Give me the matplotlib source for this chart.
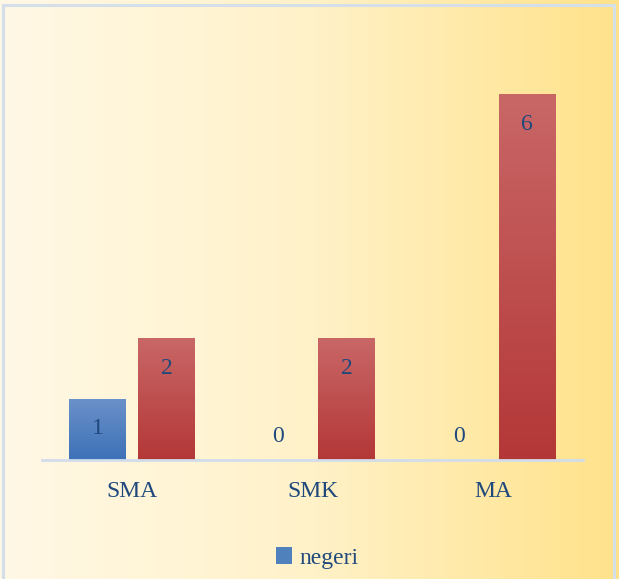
import numpy as np
import matplotlib
matplotlib.use('Agg')
import matplotlib.pyplot as plt
from matplotlib.colors import LinearSegmentedColormap
from matplotlib.patches import Patch

categories = ['SMA', 'SMK', 'MA']
negeri = [1, 0, 0]
swasta = [2, 2, 6]
series_names = ['negeri', 'swasta']

W, H = 619, 579
TXT = '#1F497D'
FONT = 'Liberation Serif'
FS = 17
fig = plt.figure(figsize=(W / 100, H / 100), dpi=100)

# background gradient
bg = fig.add_axes([0, 0, 1, 1], zorder=-10)
bgcmap = LinearSegmentedColormap.from_list(
    'bg', [(0, '#FFF8E6'), (0.5, '#FFF2C9'), (1, '#FFE28A')])
grad = np.linspace(0, 1, 256).reshape(1, -1)
bg.imshow(grad, aspect='auto', cmap=bgcmap, extent=[0, 1, 0, 1])
bg.set_xlim(0, 1)
bg.set_ylim(0, 1)
bg.axis('off')
bg.plot([2.5 / W, 2.5 / W, 613.5 / W, 613.5 / W],
        [-0.02, 1 - 5 / H, 1 - 5 / H, -0.02],
        color='#D5DFEA', lw=2.2, solid_joinstyle='miter')

# main axes
ax = fig.add_axes([42 / W, (H - 460) / H, (583 - 42) / W, (460 - 20) / H])
ax.patch.set_alpha(0)
x = np.arange(len(categories))
bw = 0.316
off = 0.19

blue_cmap = LinearSegmentedColormap.from_list('b', ['#3D71B7', '#6A91C9'])
red_cmap = LinearSegmentedColormap.from_list('r', ['#B43737', '#C96767'])
vgrad = np.linspace(0, 1, 256).reshape(-1, 1)

b1 = ax.bar(x - off, negeri, bw, color='#4F81BD', label=series_names[0], zorder=2)
b2 = ax.bar(x + off, swasta, bw, color='#C0504D', label=series_names[1], zorder=2)

for bars, cm in ((b1, blue_cmap), (b2, red_cmap)):
    for r in bars:
        h = r.get_height()
        if h <= 0:
            continue
        x0 = r.get_x()
        im = ax.imshow(vgrad, origin='lower', aspect='auto', cmap=cm,
                       extent=[x0, x0 + r.get_width(), 0, h], zorder=3)
        im.set_clip_path(r)

ax.set_xlim(-0.5, len(categories) - 0.5)
ax.set_ylim(0, 440 / 61)

for bars, vals in ((b1, negeri), (b2, swasta)):
    for r, v in zip(bars, vals):
        cx = r.get_x() + r.get_width() / 2
        dy = 23 if v == 0 else -30
        ax.annotate(str(v), (cx, v), xytext=(0, dy), textcoords='offset pixels',
                    ha='center', va='center', fontsize=FS, color=TXT,
                    family=FONT, zorder=5)

for s in ('top', 'right', 'left'):
    ax.spines[s].set_visible(False)
ax.spines['bottom'].set_color('#D2DDEB')
ax.spines['bottom'].set_linewidth(2)
ax.spines['bottom'].set_zorder(4)
ax.set_yticks([])
ax.set_xticks(x)
ax.set_xticklabels(categories, fontsize=FS, color=TXT, family=FONT)
ax.tick_params(axis='x', length=0, pad=15)

leg = fig.legend(handles=[Patch(facecolor='#4F81BD', edgecolor='none')],
                 labels=[series_names[0]], loc='center',
                 bbox_to_anchor=(317 / W, 1 - 558 / H), frameon=False,
                 handlelength=0.7, handleheight=0.7, handletextpad=0.3,
                 prop={'family': FONT, 'size': FS})
for t in leg.get_texts():
    t.set_color(TXT)

fig.savefig('out.png', dpi=100)
